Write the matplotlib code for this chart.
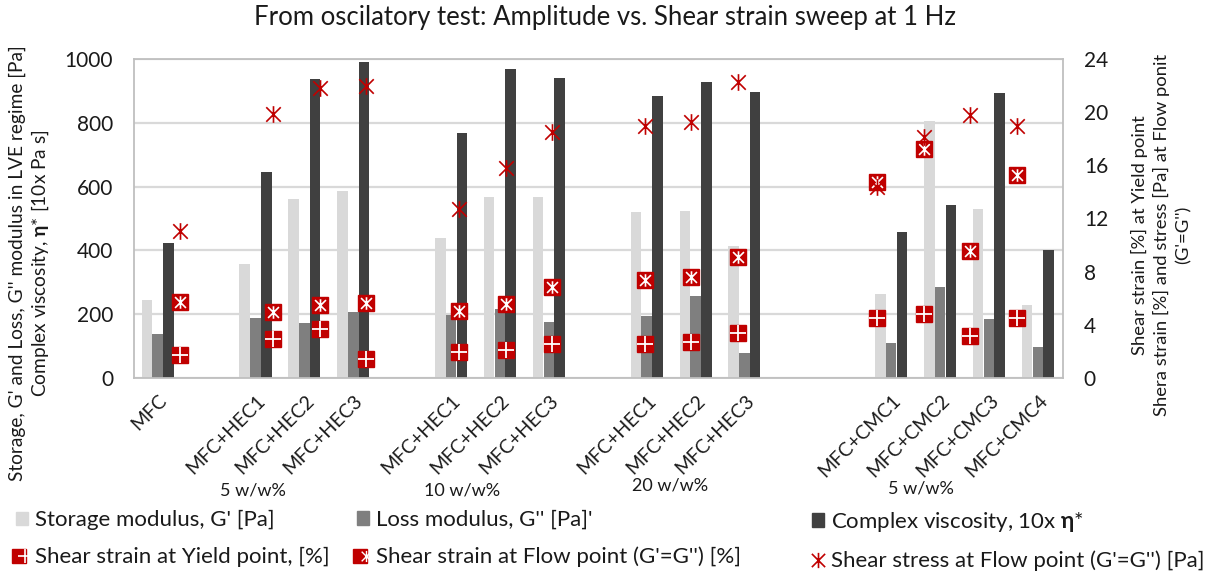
import numpy as np
import matplotlib
matplotlib.use("Agg")
import matplotlib.pyplot as plt
from matplotlib.path import Path
from matplotlib.lines import Line2D
from matplotlib.patches import Patch
from matplotlib.legend_handler import HandlerTuple
from matplotlib import transforms

plt.rcParams["font.family"] = ["Lato", "DejaVu Sans"]
plt.rcParams["mathtext.fontset"] = "custom"
plt.rcParams["mathtext.rm"] = "Lato"
plt.rcParams["mathtext.bf"] = "Lato:bold"
plt.rcParams["mathtext.fallback"] = "stixsans"

nan = np.nan

# Samples (empty strings are spacer slots between the groups)
categories = ["MFC", "", "MFC+HEC1", "MFC+HEC2", "MFC+HEC3", "",
              "MFC+HEC1", "MFC+HEC2", "MFC+HEC3", "",
              "MFC+HEC1", "MFC+HEC2", "MFC+HEC3", "", "",
              "MFC+CMC1", "MFC+CMC2", "MFC+CMC3", "MFC+CMC4"]
group_labels = ["5 w/w%", "10 w/w%", "20 w/w%", "5 w/w%"]

# Primary axis: moduli [Pa] and 10x complex viscosity
storage_modulus = [245, nan, 356, 562, 585, nan, 440, 567, 567, nan,
                   519, 524, 413, nan, nan, 263, 806, 529, 229]
loss_modulus = [137, nan, 189, 172, 207, nan, 197, 215, 176, nan,
                193, 256, 79, nan, nan, 111, 286, 185, 98]
complex_viscosity = [422, nan, 647, 936, 990, nan, 769, 969, 941, nan,
                     884, 928, 898, nan, nan, 458, 542, 894, 401]

# Secondary axis: strains [%] and stress [Pa]
yield_strain = [1.75, nan, 2.96, 3.71, 1.45, nan, 1.98, 2.11, 2.53, nan,
                2.53, 2.73, 3.36, nan, nan, 4.51, 4.84, 3.16, 4.51]
flow_strain = [5.74, nan, 4.94, 5.47, 5.67, nan, 5.07, 5.57, 6.85, nan,
               7.37, 7.57, 9.13, nan, nan, 14.77, 17.25, 9.58, 15.27]
flow_stress = [11.06, nan, 19.84, 21.84, 21.99, nan, 12.74, 15.82, 18.53, nan,
               18.98, 19.26, 22.24, nan, nan, 14.39, 18.16, 19.81, 18.98]

# Layout of the group captions under the tick labels (data x, axes y)
group_x = [1.93, 6.21, 10.46, 15.6]
group_y = [-0.352, -0.352, -0.336, -0.345]

C_LIGHT = "#D9D9D9"
C_MID = "#7F7F7F"
C_DARK = "#404040"
C_RED = "#C00000"
C_GRID = "#D9D9D9"
C_FRAME = "#BFBFBF"
C_TEXT = "#1a1a1a"

# Excel-like star marker: an X crossed by a vertical stroke
star = Path([(-1, -1), (1, 1), (-1, 1), (1, -1), (0, -1.15), (0, 1.15)],
            [Path.MOVETO, Path.LINETO, Path.MOVETO, Path.LINETO,
             Path.MOVETO, Path.LINETO])

fig = plt.figure(figsize=(12.05, 5.76), dpi=100)
ax = fig.add_axes([134 / 1205, 1 - 378 / 576, (1063 - 134) / 1205, (378 - 59) / 576])

n = len(categories)
x = np.arange(n)
w = 0.215
ax.bar(x - 0.235, storage_modulus, w, color=C_LIGHT, zorder=2)
ax.bar(x - 0.015, loss_modulus, w, color=C_MID, zorder=2)
ax.bar(x + 0.205, complex_viscosity, w, color=C_DARK, zorder=2)

ax.set_xlim(-0.5, n - 0.5)
ax.set_ylim(0, 1000)
ax.set_yticks(np.arange(0, 1001, 200))
ax.yaxis.grid(True, color=C_GRID, lw=1.6, zorder=0)
ax.set_axisbelow(True)
for s in ax.spines.values():
    s.set_color(C_FRAME)
    s.set_linewidth(1.3)
ax.tick_params(axis="y", length=0, pad=15, labelsize=15, labelcolor=C_TEXT)
ax.set_xticks(x)
ax.set_xticklabels(categories, rotation=45, ha="right", rotation_mode="anchor",
                   fontsize=14)
ax.tick_params(axis="x", length=0, pad=10, labelcolor=C_TEXT)

trans = transforms.blended_transform_factory(ax.transData, ax.transAxes)
for gx, gy, gl in zip(group_x, group_y, group_labels):
    ax.text(gx, gy, gl, transform=trans, ha="center", va="center",
            fontsize=13, color=C_TEXT)

# Secondary axis: point series sit on their own 21-slot category scale
ax2 = ax.twinx()
ax2.set_ylim(0, 24)
ax2.set_yticks(np.arange(0, 25, 4))
ax2.tick_params(axis="y", length=0, pad=15, labelsize=15, labelcolor=C_TEXT)
for s in ax2.spines.values():
    s.set_visible(False)
xm = (x + 1) * n / (n + 1) - 0.5

ms_box = 11.5
ax2.plot(xm, yield_strain, ls="none", marker="s", ms=ms_box, mfc=C_RED,
         mec=C_RED, zorder=3)
ax2.plot(xm, yield_strain, ls="none", marker="+", ms=ms_box, mec="white",
         mew=1.3, zorder=4)
ax2.plot(xm, flow_strain, ls="none", marker="s", ms=ms_box, mfc=C_RED,
         mec=C_RED, zorder=3)
ax2.plot(xm, flow_strain, ls="none", marker=star, ms=9, mfc="none",
         mec="white", mew=1.2, zorder=4)
ax2.plot(xm, flow_stress, ls="none", marker=star, ms=12, mfc="none",
         mec=C_RED, mew=1.2, zorder=4)

fig.text(0.502, 1 - 18 / 576, "From oscilatory test: Amplitude vs. Shear strain sweep at 1 Hz",
         ha="center", va="center", fontsize=18.5, color=C_TEXT)

fig.text(30 / 1205, 1 - 263 / 576,
         "Storage, G' and Loss, G'' modulus in LVE regime [Pa]\n"
         "Complex viscosity, $\\mathbf{\\eta}$* [10x Pa s]",
         rotation=90, ha="center", va="center", multialignment="center",
         fontsize=13.8, linespacing=1.2, color=C_TEXT)
fig.text(1161 / 1205, 1 - 235 / 576,
         "Shear strain [%] at Yield point\n"
         "Shera strain [%] and stress [Pa] at Flow ponit\n"
         "(G'=G'')",
         rotation=90, ha="center", va="center", multialignment="center",
         fontsize=13.3, linespacing=1.4, color=C_TEXT)

# Legend: three columns, two rows
h_storage = Patch(color=C_LIGHT)
h_loss = Patch(color=C_MID)
h_visc = Patch(color=C_DARK)
h_yield = (Line2D([], [], ls="none", marker="s", ms=10, mfc=C_RED, mec=C_RED),
           Line2D([], [], ls="none", marker="+", ms=10, mec="white", mew=1.2))
h_flow = (Line2D([], [], ls="none", marker="s", ms=10, mfc=C_RED, mec=C_RED),
          Line2D([], [], ls="none", marker=star, ms=8, mfc="none", mec="white", mew=1.0))
h_stress = Line2D([], [], ls="none", marker=star, ms=11, mfc="none", mec=C_RED, mew=1.2)

columns = [
    (16, [h_storage, h_yield], ["Storage modulus, G' [Pa]", "Shear strain at Yield point, [%]"]),
    (357, [h_loss, h_flow], ["Loss modulus, G'' [Pa]'", "Shear strain at Flow point (G'=G'') [%]"]),
    (812, [h_visc, h_stress], ["Complex viscosity, 10x $\\mathbf{\\eta}$*",
                               "Shear stress at Flow point (G'=G'') [Pa]"]),
]
for px, handles, labels in columns:
    fig.legend(handles, labels, loc="upper left",
               bbox_to_anchor=(px / 1205, 1 - 510 / 576),
               frameon=False, fontsize=16, handlelength=0.55, handleheight=0.55,
               handletextpad=0.3, labelspacing=0.75, borderpad=0, borderaxespad=0,
               handler_map={tuple: HandlerTuple(ndivide=None)},
               labelcolor=C_TEXT)

fig.savefig("out.png", dpi=100, facecolor="white")
